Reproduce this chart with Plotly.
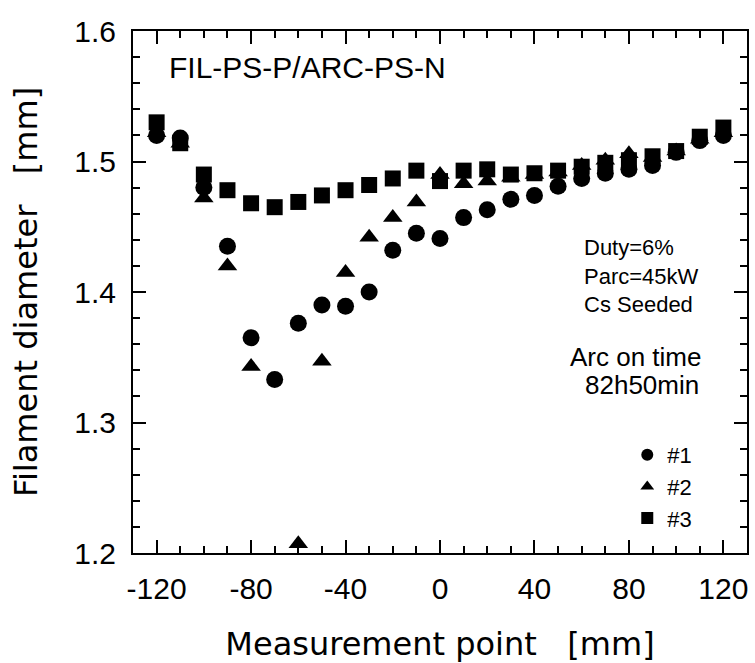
import plotly.graph_objects as go

# Measurement points [mm]
x_points = [-120, -110, -100, -90, -80, -70, -60, -50, -40, -30, -20, -10, 0,
            10, 20, 30, 40, 50, 60, 70, 80, 90, 100, 110, 120]

# Filament diameter [mm]
d1 = [1.520, 1.518, 1.480, 1.435, 1.365, 1.333, 1.376, 1.390, 1.389, 1.400, 1.432, 1.445, 1.441,
      1.457, 1.463, 1.471, 1.474, 1.481, 1.487, 1.491, 1.494, 1.497, 1.507, 1.516, 1.520]
d2 = [1.522, 1.514, 1.472, 1.420, 1.343, None, 1.207, 1.347, 1.415, 1.442, 1.457, 1.469, 1.490,
      1.483, 1.485, 1.488, 1.490, 1.492, 1.497, 1.501, 1.506, 1.503, 1.508, 1.517, 1.522]
d3 = [1.530, 1.514, 1.490, 1.478, 1.468, 1.465, 1.469, 1.474, 1.478, 1.482, 1.487, 1.493, 1.485,
      1.493, 1.494, 1.490, 1.491, 1.493, 1.496, 1.499, 1.501, 1.504, 1.508, 1.519, 1.526]

series_names = ["#1", "#2", "#3"]
series_symbols = ["circle", "triangle-up", "square"]
series_sizes = [17, 17, 16]

x_tickvals = [-120, -80, -40, 0, 40, 80, 120]
x_ticktext = ["-120", "-80", "-40", "0", "40", "80", "120"]
y_tickvals = [1.2, 1.3, 1.4, 1.5, 1.6]
y_ticktext = ["1.2", "1.3", "1.4", "1.5", "1.6"]

fig = go.Figure()
for name, ys, sym, sz in zip(series_names, [d1, d2, d3], series_symbols, series_sizes):
    fig.add_trace(go.Scatter(
        x=x_points, y=ys, mode="markers", name=name,
        marker=dict(symbol=sym, size=sz, color="black", line=dict(width=0)),
    ))

tick_font = dict(family="Liberation Sans, Arial, sans-serif", size=30, color="black")
title_font = dict(family="DejaVu Sans, sans-serif", size=32, color="black")

fig.update_xaxes(
    range=[-130, 130], tickvals=x_tickvals, ticktext=x_ticktext,
    ticks="inside", ticklen=13, tickwidth=2, tickcolor="black",
    minor=dict(dtick=10, ticks="inside", ticklen=7, tickwidth=1.5, tickcolor="black"),
    showline=True, linewidth=2, linecolor="black", mirror="allticks",
    showgrid=False, zeroline=False, tickfont=tick_font, ticklabelstandoff=8,
    automargin=False,
    title=dict(text="Measurement point   [mm]", font=title_font, standoff=40),
)
fig.update_yaxes(
    range=[1.2, 1.6], tickvals=y_tickvals, ticktext=y_ticktext,
    ticks="inside", ticklen=13, tickwidth=2, tickcolor="black",
    minor=dict(dtick=0.02, ticks="inside", ticklen=7, tickwidth=1.5, tickcolor="black"),
    showline=True, linewidth=2, linecolor="black", mirror="allticks",
    showgrid=False, zeroline=False, tickfont=tick_font, ticklabelstandoff=9,
    automargin=False,
    title=dict(text="Filament diameter   [mm]", font=title_font, standoff=27),
)

ann_font = "Liberation Sans, Arial, sans-serif"
annotations = [
    dict(text="FIL-PS-P/ARC-PS-N", x=0.0554, y=0.931, size=30),
    dict(text="Duty=6%<br>Parc=45kW<br>Cs Seeded", x=0.7313, y=0.5307, size=22),
    dict(text="Arc on time", x=0.7085, y=0.3764, size=26),
    dict(text="82h50min", x=0.7329, y=0.3218, size=26),
]
for a in annotations:
    fig.add_annotation(text=a["text"], x=a["x"], y=a["y"], xref="paper", yref="paper",
                       xanchor="left", yanchor="middle", align="left", showarrow=False,
                       font=dict(family=ann_font, size=a["size"], color="black"))

fig.update_layout(
    width=755, height=663,
    margin=dict(l=133, r=8, t=31, b=110, pad=0),
    paper_bgcolor="white", plot_bgcolor="white",
    showlegend=True,
    legend=dict(x=0.805, y=0.228, xanchor="left", yanchor="top",
                bgcolor="rgba(0,0,0,0)", font=dict(family=ann_font, size=22, color="black"),
                itemsizing="constant", tracegroupgap=0),
)

fig.write_html("out.html")
